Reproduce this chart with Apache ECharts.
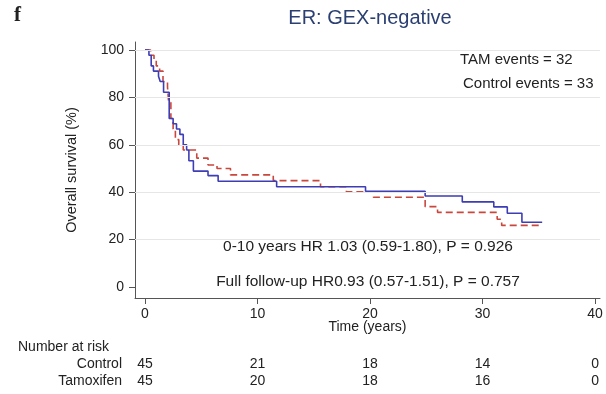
<!DOCTYPE html>
<html>
<head>
<meta charset="utf-8">
<script src="https://cdn.jsdelivr.net/npm/echarts@6/dist/echarts.min.js"></script>
<style>
html,body{margin:0;padding:0;background:#fff;}
#km{width:606px;height:394px;}
</style>
</head>
<body>
<div id="km"></div>
<script>
// Kaplan-Meier curves, ER: GEX-negative
var tamTime = [0, 0.35, 0.55, 0.75, 1.2, 1.35, 1.65, 2.15, 2.5, 2.8, 3.1, 3.4, 3.7, 3.9, 4.3, 5.6, 6.5, 11.7, 19.6, 24.9, 28.2, 31.0, 32.2, 33.5, 35.3];
var tamSurv = [100, 97.8, 93.3, 91.1, 88.9, 86.7, 82.2, 71.1, 68.9, 66.7, 64.4, 60.0, 57.8, 53.3, 48.9, 47.0, 44.6, 42.3, 40.4, 38.4, 35.9, 33.8, 31.1, 27.3, 27.3];
var ctlTime = [0, 0.5, 0.8, 1.0, 1.3, 1.6, 2.0, 2.1, 2.3, 2.5, 2.7, 3.0, 3.4, 4.6, 5.6, 6.4, 7.6, 11.4, 15.6, 17.9, 20.3, 24.9, 26.0, 31.3, 31.7, 35.0];
var ctlSurv = [100, 97.8, 95.6, 93.3, 91.1, 86.7, 84.4, 77.8, 71.1, 66.7, 62.2, 60.0, 57.8, 54.4, 51.5, 50.0, 47.3, 44.9, 42.3, 40.2, 37.9, 33.9, 31.5, 28.6, 26.0, 26.0];

var xTicks = [0, 10, 20, 30, 40];
var yTicks = [0, 20, 40, 60, 80, 100];
var gridVals = [20, 40, 60, 80, 100];

var riskTimes = [0, 10, 20, 30, 40];
var ctlRisk = [45, 21, 18, 14, 0];
var tamRisk = [45, 20, 18, 16, 0];

var FONT = '"Liberation Sans", Arial, sans-serif';

function pairs(t, s){
	var out = [];
	for (var i = 0; i < t.length; i++) out.push([t[i], s[i]]);
	return out;
}

var chart = echarts.init(document.getElementById('km'));

var option = {
	animation: false,
	grid: { left: 135, right: 6, top: 42, bottom: 96 },
	xAxis: {
		type: 'value',
		min: -0.889, max: 40.44,
		name: 'Time (years)',
		nameLocation: 'middle',
		nameGap: 22,
		nameMoveOverlap: false,
		nameTextStyle: { color: '#222', fontSize: 14, fontFamily: FONT },
		axisLine: { show: true, onZero: false, lineStyle: { color: '#555', width: 1 } },
		axisTick: { show: true, length: 6, lineStyle: { color: '#555' }, customValues: xTicks },
		axisLabel: { color: '#222', fontSize: 14, fontFamily: FONT, margin: 9, customValues: xTicks },
		splitLine: { show: false }
	},
	yAxis: {
		type: 'value',
		min: -4.64, max: 103.38,
		name: 'Overall survival (%)',
		nameLocation: 'middle',
		nameGap: 56,
		nameTextStyle: { color: '#222', fontSize: 14.5, fontFamily: FONT },
		axisLine: { show: true, onZero: false, lineStyle: { color: '#555', width: 1 } },
		axisTick: { show: true, length: 6, lineStyle: { color: '#555' }, customValues: yTicks },
		axisLabel: { color: '#222', fontSize: 14, fontFamily: FONT, margin: 11, customValues: yTicks },
		splitLine: { show: false }
	},
	series: [{
		name: 'Control',
		type: 'line',
		step: 'end',
		showSymbol: false,
		data: pairs(ctlTime, ctlSurv),
		lineStyle: { color: '#c9473d', width: 1.6, type: [7, 4] },
		markLine: {
			silent: true,
			symbol: 'none',
			label: { show: false },
			lineStyle: { color: '#e6e6e6', width: 1, type: 'solid' },
			data: gridVals.map(function(v){ return { yAxis: v }; })
		},
		z: 3
	},{
		name: 'Tamoxifen',
		type: 'line',
		step: 'end',
		showSymbol: false,
		data: pairs(tamTime, tamSurv),
		lineStyle: { color: '#3d3db5', width: 1.6 },
		z: 4
	}]
};
chart.setOption(option);

// texts and number-at-risk table, x taken from the axis
var txt = function(x, y, s, opt){
	opt = opt || {};
	return {
		type: 'text', x: x, y: y, silent: true,
		style: {
			text: s, fill: opt.fill || '#222',
			font: (opt.weight || 'normal') + ' ' + (opt.size || 14) + 'px ' + (opt.family || FONT),
			textAlign: opt.align || 'left', textVerticalAlign: 'middle'
		}
	};
};
var els = [];
els.push(txt(14, 16, 'f', { size: 21, weight: 'bold', family: '"Liberation Serif", serif' }));
els.push(txt(370, 18, 'ER: GEX-negative', { size: 20, align: 'center', fill: '#2b3f72' }));
els.push(txt(460, 60, 'TAM events = 32', { size: 15 }));
els.push(txt(463, 84, 'Control events = 33', { size: 15 }));
els.push(txt(368, 247, '0-10 years HR 1.03 (0.59-1.80), P = 0.926', { size: 15.5, align: 'center' }));
els.push(txt(368, 282, 'Full follow-up HR0.93 (0.57-1.51), P = 0.757', { size: 15.5, align: 'center' }));
els.push(txt(18, 347, 'Number at risk'));
els.push(txt(122, 364, 'Control', { align: 'right' }));
els.push(txt(122, 381, 'Tamoxifen', { align: 'right' }));
for (var i = 0; i < riskTimes.length; i++) {
	var px = chart.convertToPixel({ xAxisIndex: 0 }, riskTimes[i]);
	els.push(txt(px, 364, String(ctlRisk[i]), { align: 'center' }));
	els.push(txt(px, 381, String(tamRisk[i]), { align: 'center' }));
}
chart.setOption({ graphic: { elements: els } });
</script>
</body>
</html>
